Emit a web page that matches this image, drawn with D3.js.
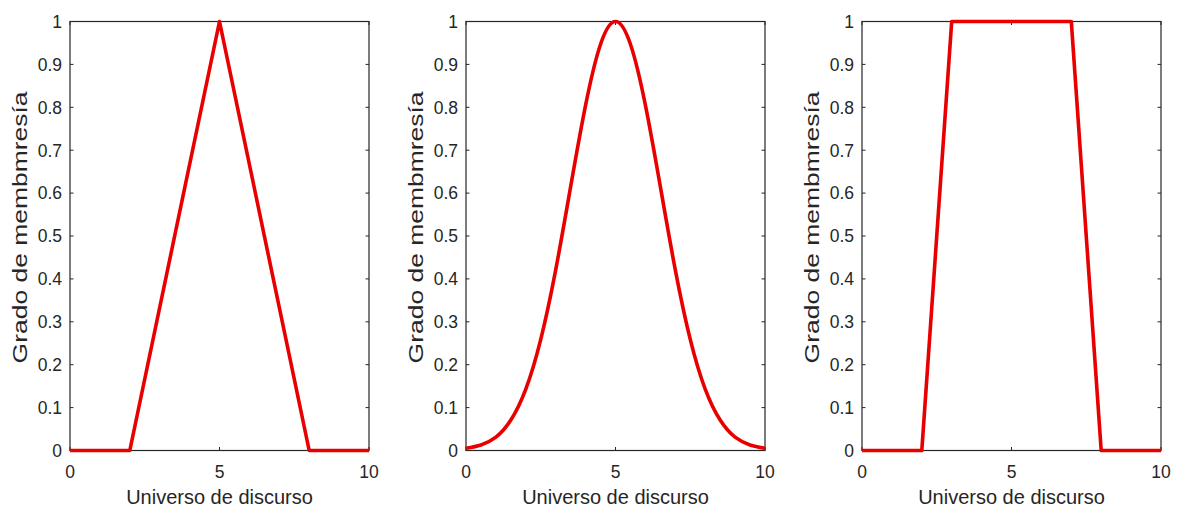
<!DOCTYPE html>
<html>
<head>
<meta charset="utf-8">
<script src="https://cdn.jsdelivr.net/npm/d3@7"></script>
<style>
  html, body { margin: 0; padding: 0; background: #fff; }
  svg { display: block; }
  text { font-family: "Liberation Sans", Arial, sans-serif; fill: #262626; }
</style>
</head>
<body>
<svg id="chart" width="1177" height="507"></svg>
<script>
// ---- data ----
const xTicks = [0, 5, 10];
const yTicks = [0, 0.1, 0.2, 0.3, 0.4, 0.5, 0.6, 0.7, 0.8, 0.9, 1];
const yTickLabels = ["0", "0.1", "0.2", "0.3", "0.4", "0.5", "0.6", "0.7", "0.8", "0.9", "1"];
const xLabel = "Universo de discurso";
const yLabel = "Grado de membmresía";

const triX = [0, 2, 5, 8, 10];
const triY = [0, 0, 1, 0, 0];

const gaussX = [0, 0.5, 1, 1.5, 2, 2.5, 3, 3.5, 4, 4.5, 5, 5.5, 6, 6.5, 7, 7.5, 8, 8.5, 9, 9.5, 10];
const gaussY = [0.005, 0.013, 0.031, 0.071, 0.143, 0.259, 0.421, 0.615, 0.805, 0.947, 1, 0.947, 0.805, 0.615, 0.421, 0.259, 0.143, 0.071, 0.031, 0.013, 0.005];

const trapX = [0, 2, 3, 7, 8, 10];
const trapY = [0, 0, 1, 1, 0, 0];

const panels = [
  { xs: triX, ys: triY, curve: d3.curveLinear, left: 70 },
  { xs: gaussX, ys: gaussY, curve: d3.curveNatural, left: 466 },
  { xs: trapX, ys: trapY, curve: d3.curveLinear, left: 862 }
];

// ---- layout ----
const pw = 299, plotTop = 21.5, plotBottom = 450.5;
const svg = d3.select("#chart");

panels.forEach(p => {
  const x = d3.scaleLinear().domain([0, 10]).range([p.left, p.left + pw]);
  const y = d3.scaleLinear().domain([0, 1]).range([plotBottom, plotTop]);
  const g = svg.append("g");

  g.append("rect")
    .attr("x", x(0)).attr("y", y(1))
    .attr("width", x(10) - x(0)).attr("height", y(0) - y(1))
    .attr("fill", "none").attr("stroke", "#262626").attr("stroke-width", 1.2);

  const tl = 3.5;
  yTicks.forEach((t, i) => {
    g.append("line").attr("x1", x(0)).attr("x2", x(0) + tl).attr("y1", y(t)).attr("y2", y(t)).attr("stroke", "#262626");
    g.append("line").attr("x1", x(10)).attr("x2", x(10) - tl).attr("y1", y(t)).attr("y2", y(t)).attr("stroke", "#262626");
    g.append("text").attr("x", x(0) - 8).attr("y", y(t)).attr("dy", "0.36em")
      .attr("text-anchor", "end").attr("font-size", 17.5).text(yTickLabels[i]);
  });
  xTicks.forEach(t => {
    g.append("line").attr("x1", x(t)).attr("x2", x(t)).attr("y1", y(0)).attr("y2", y(0) - tl).attr("stroke", "#262626");
    g.append("line").attr("x1", x(t)).attr("x2", x(t)).attr("y1", y(1)).attr("y2", y(1) + tl).attr("stroke", "#262626");
    g.append("text").attr("x", x(t)).attr("y", 477.5)
      .attr("text-anchor", "middle").attr("font-size", 17.5).text(t);
  });

  g.append("text").attr("x", (x(0) + x(10)) / 2).attr("y", 504)
    .attr("text-anchor", "middle").attr("font-size", 20).text(xLabel);
  g.append("text")
    .attr("transform", `translate(${x(0) - 50},${y(0.52)}) rotate(-90)`)
    .attr("text-anchor", "middle").attr("dy", "0.36em").attr("font-size", 20)
    .attr("textLength", 272).attr("lengthAdjust", "spacingAndGlyphs")
    .text(yLabel);

  const data = p.xs.map((v, i) => [v, p.ys[i]]);
  g.append("path").datum(data)
    .attr("fill", "none").attr("stroke", "#e80000").attr("stroke-width", 3.6)
    .attr("stroke-linejoin", "round")
    .attr("d", d3.line().x(d => x(d[0])).y(d => y(d[1])).curve(p.curve));
});
</script>
</body>
</html>
